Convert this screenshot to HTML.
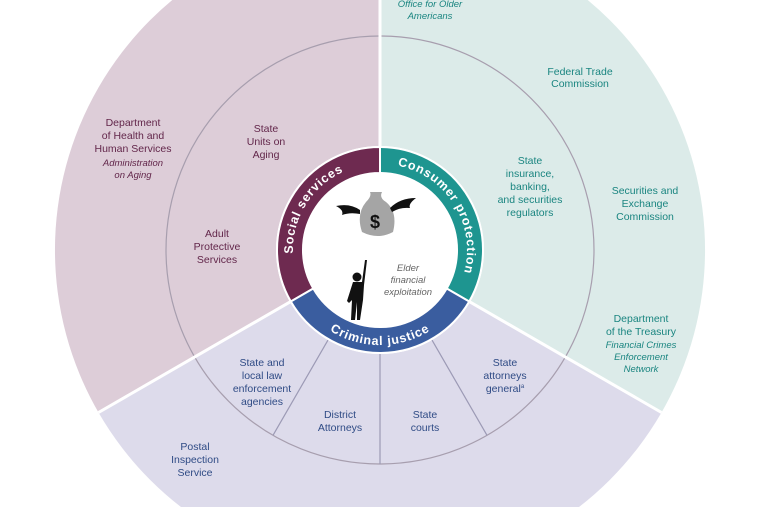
<!DOCTYPE html>
<html><head><meta charset="utf-8"><style>
html,body{margin:0;padding:0;background:#fff;width:760px;height:507px;overflow:hidden;}
svg{display:block;}
text{font-family:"Liberation Sans",sans-serif;}
.p{fill:#62264a;font-size:10.5px;text-anchor:middle;}
.t{fill:#1a8580;font-size:10.5px;text-anchor:middle;}
.b{fill:#2f4b85;font-size:10.5px;text-anchor:middle;}
.i{font-style:italic;font-size:9.5px;}
.r{fill:#fff;font-size:12.5px;font-weight:bold;letter-spacing:0.8px;}
</style></head><body>
<svg width="760" height="507" viewBox="0 0 760 507" xmlns="http://www.w3.org/2000/svg">
<rect width="760" height="507" fill="#fff"/>
<path d="M380,250 L380,-75 A325 325 0 0 0 98.5,412.5 Z" fill="#ddcdd8"/>
<path d="M380,250 L380,-75 A325 325 0 0 1 661.5,412.5 Z" fill="#dcebe9"/>
<path d="M380,250 L661.5,412.5 A325 325 0 0 1 98.5,412.5 Z" fill="#dddbeb"/>
<circle cx="380" cy="250" r="214" fill="none" stroke="#a79eae" stroke-width="1.2"/>
<g stroke="#fff" stroke-width="3">
<line x1="380" y1="250" x2="380" y2="-80"/>
<line x1="380" y1="250" x2="661.5" y2="412.5"/>
<line x1="380" y1="250" x2="98.5" y2="412.5"/>
</g>
<g stroke="#9c9ab5" stroke-width="1.2">
<line x1="431.5" y1="339.2" x2="487" y2="435.3"/>
<line x1="380" y1="353" x2="380" y2="464"/>
<line x1="328.5" y1="339.2" x2="273" y2="435.3"/>
</g>
<circle cx="380" cy="250" r="104" fill="#fff"/>
<path d="M380,147 A103 103 0 0 0 290.8,301.5 L313.3,288.5 A77 77 0 0 1 380,173 Z" fill="#6e2a50" stroke="#fff" stroke-width="2"/>
<path d="M380,147 A103 103 0 0 1 469.2,301.5 L446.7,288.5 A77 77 0 0 0 380,173 Z" fill="#1e9590" stroke="#fff" stroke-width="2"/>
<path d="M469.2,301.5 A103 103 0 0 1 290.8,301.5 L313.3,288.5 A77 77 0 0 0 446.7,288.5 Z" fill="#3a5d9f" stroke="#fff" stroke-width="2"/>
<defs>
<path id="a1" d="M301.2,286.8 A86 86 0 0 1 377,164.1"/>
<path id="a2" d="M383,164.1 A86 86 0 0 1 458.8,286.8"/>
<path id="a3" d="M299.4,300.3 A95 95 0 0 0 460.6,300.3"/>
</defs>
<text class="r"><textPath href="#a1" startOffset="50%" text-anchor="middle">Social services</textPath></text>
<text class="r"><textPath href="#a2" startOffset="50%" text-anchor="middle">Consumer protection</textPath></text>
<text class="r"><textPath href="#a3" startOffset="50%" text-anchor="middle">Criminal justice</textPath></text>
<path d="M366,202 Q372,196 370,192 L382,192 Q379,198 386,202 Q398,212 393,232 Q378,240 362,232 Q356,214 366,202 Z" fill="#a5a5a5"/>
<text x="375" y="228" font-size="18" font-weight="bold" fill="#111" text-anchor="middle">$</text>
<path d="M360,210 Q350,203 336,206 Q344,210 342,215 Q350,212 360,214 Z" fill="#111"/>
<path d="M390,208 Q400,198 416,198 Q408,204 410,208 Q400,207 392,212 Z" fill="#111"/>
<circle cx="357" cy="277" r="4.5" fill="#111"/>
<path d="M353,282 L362,282 L365,260 L367,260 L364,285 L363,300 L360,320 L357,320 L357,302 L355,320 L351,320 L352,300 L349,303 L347,301 Z" fill="#111"/>
<text class="i" x="408" y="271" fill="#666" text-anchor="middle" font-size="9">Elder</text>
<text class="i" x="408" y="283" fill="#666" text-anchor="middle" font-size="9">financial</text>
<text class="i" x="408" y="295" fill="#666" text-anchor="middle" font-size="9">exploitation</text>
<text class="p" x="133" y="126">Department</text>
<text class="p" x="133" y="139">of Health and</text>
<text class="p" x="133" y="152">Human Services</text>
<text class="p i" x="133" y="166">Administration</text>
<text class="p i" x="133" y="178">on Aging</text>
<text class="p" x="266" y="132">State</text>
<text class="p" x="266" y="145">Units on</text>
<text class="p" x="266" y="158">Aging</text>
<text class="p" x="217" y="237">Adult</text>
<text class="p" x="217" y="250">Protective</text>
<text class="p" x="217" y="263">Services</text>
<text class="t i" x="430" y="7">Office for Older</text>
<text class="t i" x="430" y="19">Americans</text>
<text class="t" x="580" y="75">Federal Trade</text>
<text class="t" x="580" y="87">Commission</text>
<text class="t" x="530" y="164">State</text>
<text class="t" x="530" y="177">insurance,</text>
<text class="t" x="530" y="190">banking,</text>
<text class="t" x="530" y="203">and securities</text>
<text class="t" x="530" y="216">regulators</text>
<text class="t" x="645" y="194">Securities and</text>
<text class="t" x="645" y="207">Exchange</text>
<text class="t" x="645" y="220">Commission</text>
<text class="t" x="641" y="322">Department</text>
<text class="t" x="641" y="335">of the Treasury</text>
<text class="t i" x="641" y="348">Financial Crimes</text>
<text class="t i" x="641" y="360">Enforcement</text>
<text class="t i" x="641" y="372">Network</text>
<text class="b" x="262" y="366">State and</text>
<text class="b" x="262" y="379">local law</text>
<text class="b" x="262" y="392">enforcement</text>
<text class="b" x="262" y="405">agencies</text>
<text class="b" x="340" y="418">District</text>
<text class="b" x="340" y="431">Attorneys</text>
<text class="b" x="425" y="418">State</text>
<text class="b" x="425" y="431">courts</text>
<text class="b" x="505" y="366">State</text>
<text class="b" x="505" y="379">attorneys</text>
<text class="b" x="505" y="392">general<tspan font-size="6" dy="-4">a</tspan></text>
<text class="b" x="195" y="450">Postal</text>
<text class="b" x="195" y="463">Inspection</text>
<text class="b" x="195" y="476">Service</text>
</svg>
</body></html>
